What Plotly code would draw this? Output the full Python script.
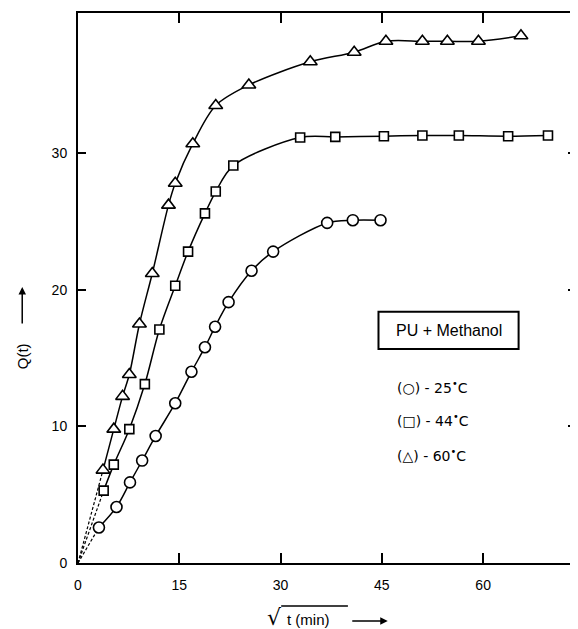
import plotly.graph_objects as go

# sqrt(t) values and Q(t) values
x25 = [3.1, 5.7, 7.7, 9.5, 11.5, 14.4, 16.8, 18.8, 20.3, 22.3, 25.7, 28.9, 36.9, 40.7, 44.8]
y25 = [2.6, 4.1, 5.9, 7.5, 9.3, 11.7, 14.0, 15.8, 17.3, 19.1, 21.4, 22.8, 24.9, 25.1, 25.1]

x44 = [3.8, 5.3, 7.6, 9.9, 12.05, 14.4, 16.3, 18.8, 20.4, 23.0, 32.9, 38.1, 45.3, 51.0, 56.4, 63.7, 69.6]
y44 = [5.3, 7.2, 9.8, 13.1, 17.1, 20.3, 22.8, 25.6, 27.2, 29.1, 31.15, 31.2, 31.25, 31.3, 31.3, 31.25, 31.3]

x60 = [3.7, 5.3, 6.6, 7.6, 9.1, 11.0, 13.4, 14.4, 17.0, 20.4, 25.3, 34.4, 40.9, 45.6, 51.0, 54.7, 59.3, 65.6]
y60 = [6.8, 9.8, 12.2, 13.8, 17.5, 21.2, 26.2, 27.8, 30.7, 33.5, 35.0, 36.7, 37.4, 38.2, 38.2, 38.2, 38.2, 38.6]

series = [
    ("25", x25, y25, "circle", 11),
    ("44", x44, y44, "square", 9),
    ("60", x60, y60, "triangle-up", 12),
]

x_ticks = [0, 15, 30, 45, 60]
y_ticks = [0, 10, 20, 30]

legend_title = "PU + Methanol"
legend_lines = ["(○) - 25<sup>•</sup>C", "(□) - 44<sup>•</sup>C", "(△) - 60<sup>•</sup>C"]

FONT = "Liberation Sans, DejaVu Sans, sans-serif"

# page has an 8px body margin; plot area targeted at x 78..578, y 13..563 in the window
OFF = 8
L, T, PW, PH = 78 - OFF, 13 - OFF, 500, 550


def px(xp):
    return (xp - OFF - L) / PW


def py(yp):
    return (T + PH - (yp - OFF)) / PH


fig = go.Figure()
for name, xs, ys, sym, sz in series:
    fig.add_trace(go.Scatter(
        x=[0, xs[0]], y=[0, ys[0]], mode="lines",
        line=dict(color="black", width=1.2, dash="3px,2px"),
        showlegend=False, hoverinfo="skip"))
    fig.add_trace(go.Scatter(
        x=xs, y=ys, mode="lines+markers", name=name + " °C",
        line=dict(color="black", width=1.5, shape="spline", smoothing=0.9),
        marker=dict(symbol=sym, size=sz, color="white",
                    line=dict(color="black", width=1.6)),
        showlegend=False))

fig.update_xaxes(
    range=[0, 73.75], tickvals=x_ticks, ticktext=[str(v) for v in x_ticks],
    ticks="inside", ticklen=10, tickwidth=1.5, tickcolor="black",
    showline=True, linecolor="black", linewidth=2, mirror="ticks",
    showgrid=False, zeroline=False, ticklabelstandoff=8,
    tickfont=dict(family=FONT, size=14, color="black"))
fig.update_yaxes(
    range=[0, 40.27], tickvals=y_ticks, ticktext=[str(v) for v in y_ticks],
    ticks="inside", ticklen=8, tickwidth=1.5, tickcolor="black",
    showline=True, linecolor="black", linewidth=2, mirror="ticks",
    showgrid=False, zeroline=False, ticklabelstandoff=6,
    tickfont=dict(family=FONT, size=14, color="black"))

# legend box
fig.add_shape(type="rect", x0=44.5, x1=65.25, y0=15.66, y1=18.39,
              line=dict(color="black", width=2), fillcolor="white")
fig.add_annotation(x=54.9, y=17.02, text=legend_title, showarrow=False,
                   xanchor="center", yanchor="middle",
                   font=dict(family=FONT, size=16, color="black"))
for txt, yy in zip(legend_lines, [12.87, 10.45, 7.89]):
    fig.add_annotation(x=47.0, y=yy, text=txt, showarrow=False,
                       xanchor="left", yanchor="middle",
                       font=dict(family="DejaVu Sans", size=14, color="black"))

# y title
fig.add_annotation(xref="paper", yref="paper", x=px(22), y=py(356), text="Q(t)",
                   textangle=-90, showarrow=False, xanchor="center", yanchor="middle",
                   font=dict(family=FONT, size=15, color="black"))
fig.add_annotation(xref="paper", yref="paper", x=px(22), y=py(287), text="",
                   showarrow=True, ax=0, ay=38, arrowhead=2, arrowsize=1,
                   arrowwidth=1.5, arrowcolor="black")

# x title
fig.add_annotation(xref="paper", yref="paper", x=px(285), y=py(617),
                   text="√", showarrow=False, xanchor="right", yanchor="middle",
                   font=dict(family="DejaVu Sans", size=22, color="black"))
fig.add_annotation(xref="paper", yref="paper", x=px(286), y=py(620),
                   text="t (min)", showarrow=False, xanchor="left", yanchor="middle",
                   font=dict(family=FONT, size=15, color="black"))
fig.add_shape(type="line", xref="paper", yref="paper",
              x0=px(282), x1=px(349), y0=py(606), y1=py(606),
              line=dict(color="black", width=1.5))
fig.add_annotation(xref="paper", yref="paper", x=px(389), y=py(621),
                   text="", showarrow=True, ax=-37, ay=0, arrowhead=2, arrowsize=1,
                   arrowwidth=1.5, arrowcolor="black")

fig.update_layout(
    width=570, height=621,
    margin=dict(l=L, r=0, t=T, b=621 - T - PH),
    paper_bgcolor="white", plot_bgcolor="white",
    showlegend=False,
)

fig.write_html("out.html")
